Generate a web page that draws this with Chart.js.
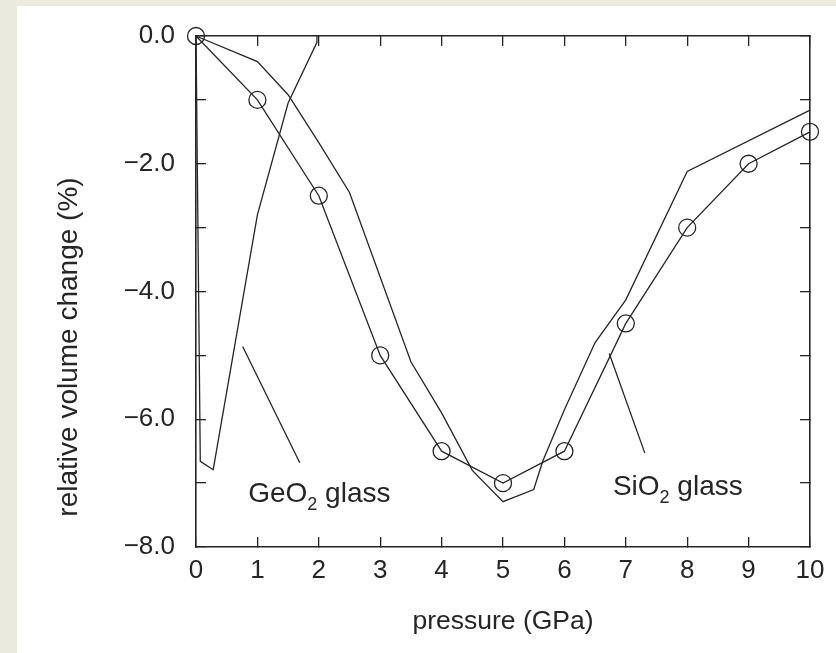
<!DOCTYPE html>
<html>
<head>
<meta charset="utf-8">
<script src="https://cdn.jsdelivr.net/npm/chart.js@4"></script>
<style>
    html, body { margin: 0; padding: 0; background: #eaeadf; }
    #wrap { position: absolute; left: 17px; top: 6px; width: 819px; height: 647px; background: #fff; }
</style>
</head>
<body>
<div id="wrap"><canvas id="chart"></canvas></div>
<script>
// Pressure steps where the SiO2 glass was measured
const pressure = [0, 1, 2, 3, 4, 5, 6, 7, 8, 9, 10];
const sio2Measured = [0, -1.0, -2.5, -5.0, -6.5, -7.0, -6.5, -4.5, -3.0, -2.0, -1.5];

// SiO2 glass, calculated curve (no markers)
const sio2CalcPressure = [0, 1.0, 1.5, 2.0, 2.5, 3.5, 4.0, 4.5, 5.0, 5.5, 5.65, 6.0, 6.5, 7.0, 8.0, 10.0];
const sio2CalcVolume = [0, -0.4, -0.92, -1.67, -2.45, -5.1, -5.9, -6.8, -7.29, -7.1, -6.65, -5.85, -4.8, -4.13, -2.12, -1.16];

// GeO2 glass
const geo2Pressure = [0, 0.07, 0.28, 1.0, 1.5, 1.97, 1.97];
const geo2Volume = [0, -6.66, -6.79, -2.8, -1.05, -0.1, 0];

// leader lines from the curves to their labels
const geo2Leader = [[0.76, -4.86], [1.69, -6.68]];
const sio2Leader = [[6.73, -4.97], [7.31, -6.53]];

const xTicks = [0, 1, 2, 3, 4, 5, 6, 7, 8, 9, 10];
const yTickLabels = ['0.0', '\u22122.0', '\u22124.0', '\u22126.0', '\u22128.0'];

const curveLabels = [
    { x: 0.85, y: -7.29, main: 'GeO', sub: '2', rest: ' glass' },
    { x: 6.79, y: -7.18, main: 'SiO', sub: '2', rest: ' glass' }
];

const ink = '#252525';
const family = '"Liberation Sans", Arial, Helvetica, sans-serif';

const toPoints = (xs, ys) => xs.map((x, i) => ({ x: x, y: ys[i] }));
const pairPoints = (pairs) => pairs.map(p => ({ x: p[0], y: p[1] }));

const plainLine = (data) => ({
    data: data,
    borderColor: ink,
    borderWidth: 1.3,
    pointRadius: 0,
    fill: false,
    tension: 0,
    clip: false
});

// subscripted curve names, anchored in data coordinates
const curveLabelPlugin = {
    id: 'curveLabels',
    afterDatasetsDraw(chart) {
        const ctx = chart.ctx;
        const xs = chart.scales.x, ys = chart.scales.y;
        ctx.save();
        ctx.fillStyle = ink;
        ctx.textBaseline = 'alphabetic';
        ctx.textAlign = 'left';
        curveLabels.forEach(l => {
            let px = xs.getPixelForValue(l.x);
            const py = ys.getPixelForValue(l.y);
            ctx.font = '28px ' + family;
            ctx.fillText(l.main, px, py);
            px += ctx.measureText(l.main).width;
            ctx.font = '18px ' + family;
            ctx.fillText(l.sub, px, py + 8);
            px += ctx.measureText(l.sub).width;
            ctx.font = '28px ' + family;
            ctx.fillText(l.rest, px, py);
        });
        ctx.restore();
    }
};

// y axis title sits a little lower than the axis centre
const yTitlePlugin = {
    id: 'yTitle',
    afterDraw(chart) {
        const ctx = chart.ctx;
        ctx.save();
        ctx.fillStyle = ink;
        ctx.font = '28px ' + family;
        ctx.textAlign = 'center';
        ctx.textBaseline = 'middle';
        ctx.translate(52, 341);
        ctx.rotate(-Math.PI / 2);
        ctx.fillText('relative volume change (%)', 0, 0);
        ctx.restore();
    }
};

// frame axes: fixed size, no label overflow padding
const fixBox = (w, h) => s => {
    if (w !== null) s.width = w;
    if (h !== null) s.height = h;
    s.paddingTop = 0;
    s.paddingBottom = 0;
    s.paddingLeft = 0;
    s.paddingRight = 0;
};

const frameGrid = {
    drawOnChartArea: false,
    tickLength: -10,
    color: ink,
    lineWidth: 1.3
};
const frameBorder = { color: ink, width: 1.6 };

new Chart(document.getElementById('chart'), {
    type: 'line',
    data: {
        datasets: [
            {
                data: toPoints(pressure, sio2Measured),
                borderColor: ink,
                borderWidth: 1.3,
                pointStyle: 'circle',
                pointRadius: 8.5,
                pointBorderWidth: 1.3,
                pointBorderColor: ink,
                pointBackgroundColor: 'rgba(0,0,0,0)',
                fill: false,
                tension: 0,
                clip: false
            },
            plainLine(toPoints(sio2CalcPressure, sio2CalcVolume)),
            plainLine(toPoints(geo2Pressure, geo2Volume)),
            plainLine(pairPoints(geo2Leader)),
            plainLine(pairPoints(sio2Leader))
        ]
    },
    options: {
        responsive: true,
        maintainAspectRatio: false,
        animation: false,
        layout: { padding: { left: 0, top: 30, right: 26, bottom: 0 } },
        plugins: {
            legend: { display: false },
            tooltip: { enabled: false }
        },
        scales: {
            x: {
                type: 'linear',
                position: 'bottom',
                min: 0,
                max: 10,
                afterBuildTicks: s => { s.ticks = xTicks.map(v => ({ value: v })); },
                ticks: {
                    color: ink,
                    font: { family: family, size: 26 },
                    padding: 18,
                    callback: v => String(v)
                },
                grid: frameGrid,
                border: frameBorder,
                title: {
                    display: true,
                    text: 'pressure (GPa)',
                    color: ink,
                    font: { family: family, size: 26.5 },
                    padding: { top: 0, bottom: 15 }
                },
                afterFit: fixBox(null, 106)
            },
            x2: {
                type: 'linear',
                position: 'top',
                min: 0,
                max: 10,
                afterBuildTicks: s => { s.ticks = xTicks.map(v => ({ value: v })); },
                ticks: { display: false },
                grid: frameGrid,
                border: frameBorder,
                afterFit: fixBox(null, 0)
            },
            y: {
                type: 'linear',
                position: 'left',
                min: -8,
                max: 0,
                ticks: {
                    stepSize: 1,
                    color: ink,
                    font: { family: family, size: 26 },
                    padding: 31,
                    callback: v => (v % 2 === 0 ? yTickLabels[-v / 2] : '')
                },
                grid: frameGrid,
                border: frameBorder,
                afterFit: fixBox(179, null)
            },
            y2: {
                type: 'linear',
                position: 'right',
                min: -8,
                max: 0,
                ticks: { display: false, stepSize: 1 },
                grid: frameGrid,
                border: frameBorder,
                afterFit: fixBox(0, null)
            }
        }
    },
    plugins: [curveLabelPlugin, yTitlePlugin]
});
</script>
</body>
</html>
